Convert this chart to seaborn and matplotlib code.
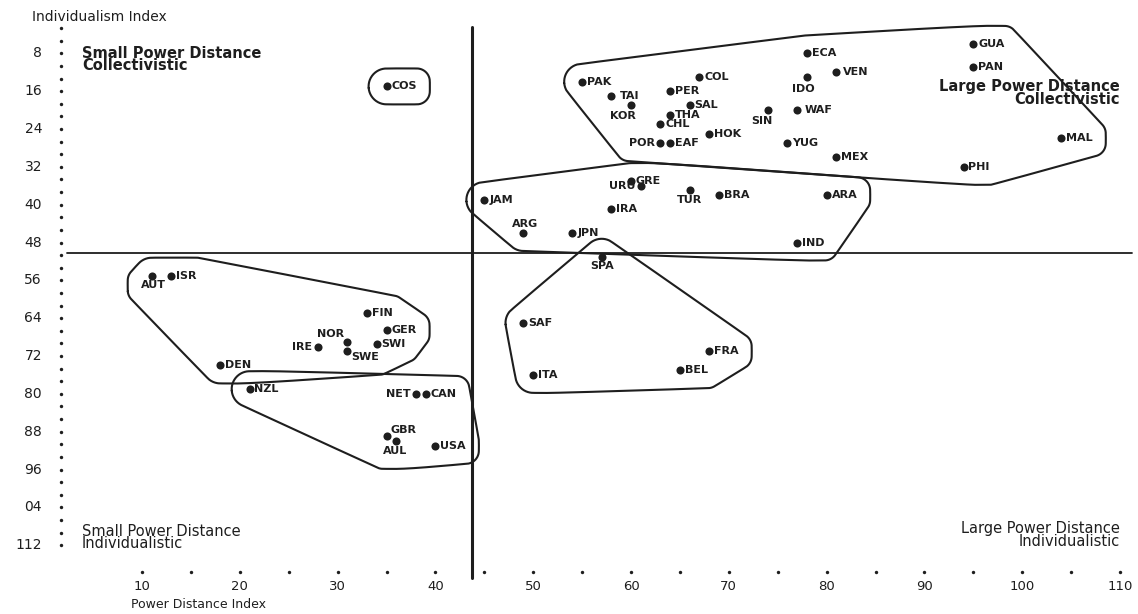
import numpy as np
import pandas as pd
import matplotlib
matplotlib.use("Agg")
import matplotlib.pyplot as plt
import seaborn as sns

# Hofstede-style map: power distance (x) vs individualism (y, drawn downwards)
countries = ["GUA", "PAN", "ECA", "VEN", "COL", "IDO", "PAK", "PER", "TAI", "KOR",
             "SAL", "THA", "CHL", "SIN", "WAF", "HOK", "POR", "EAF", "YUG", "MEX",
             "PHI", "MAL",
             "GRE", "URU", "TUR", "BRA", "ARA", "JAM", "IRA", "ARG", "JPN", "IND",
             "SPA", "SAF", "FRA", "BEL", "ITA",
             "COS",
             "AUT", "ISR", "FIN", "GER", "SWI", "NOR", "IRE", "SWE", "DEN",
             "NZL", "NET", "CAN", "GBR", "AUL", "USA"]
power_distance = [95, 95, 78, 81, 67, 78, 55, 64, 58, 60,
                  66, 64, 63, 74, 77, 68, 63, 64, 76, 81,
                  94, 104,
                  60, 61, 66, 69, 80, 45, 58, 49, 54, 77,
                  57, 49, 68, 65, 50,
                  35,
                  11, 13, 33, 35, 34, 31, 28, 31, 18,
                  21, 38, 39, 35, 36, 40]
individualism = [6, 11, 8, 12, 13, 13, 14, 16, 17, 19,
                 19, 21, 23, 20, 20, 25, 27, 27, 27, 30,
                 32, 26,
                 35, 36, 37, 38, 38, 39, 41, 46, 46, 48,
                 51, 65, 71, 75, 76,
                 15,
                 55, 55, 63, 66.5, 69.5, 69, 70, 71, 74,
                 79, 80, 80, 89, 90, 91]
cluster = ["A", "A", "A", "A", "A", "A", "A", "A", "A", "A",
           "A", "A", "A", "A", "A", "A", "A", "A", "A", "A",
           "A", "A",
           "B", "B", "B", "B", "B", "B", "B", "B", "B", "B",
           "C", "C", "C", "C", "C",
           "D",
           "E", "E", "E", "E", "E", "E", "E", "E", "E",
           "F", "F", "F", "F", "F", "F"]

y_tick_values = [8, 16, 24, 32, 40, 48, 56, 64, 72, 80, 88, 96, 104, 112]
y_tick_labels = ["8", "16", "24", "32", "40", "48", "56", "64", "72", "80",
                 "88", "96", "04", "112"]
x_tick_values = [10, 20, 30, 40, 50, 60, 70, 80, 90, 100, 110]

PDI_SPLIT = 43.7
IDV_SPLIT = 50.2

df = pd.DataFrame({"code": countries, "pdi": power_distance,
                   "idv": individualism, "cluster": cluster})

# label offsets (points) for codes not written to the right of their dot
label_pos = {
    "IDO": (-3, -9, "center"),
    "KOR": (-6, -8, "center"),
    "SIN": (-4, -8, "center"),
    "POR": (-4, 0, "right"),
    "URU": (-4, 0, "right"),
    "TUR": (0, -6.5, "center"),
    "ARG": (1, 6.5, "center"),
    "SPA": (0, -7, "center"),
    "AUT": (1, -7, "center"),
    "NOR": (-12, 6, "center"),
    "IRE": (-4, 0, "right"),
    "SWE": (3, -4, "left"),
    "NET": (-4, 0, "right"),
    "GBR": (3, 4.5, "left"),
    "AUL": (-1, -7, "center"),
    "TAI": (6, 0, "left"),
    "VEN": (5, 0, "left"),
    "WAF": (5, 0, "left"),
}

ink = "#1e1e1e"

sns.set_style("white")
plt.rcParams["font.family"] = ["DejaVu Sans"]

W, H = 1138, 614
fig = plt.figure(figsize=(W / 100, H / 100), dpi=100)
ax = fig.add_axes([0, 0, 1, 1])

sns.scatterplot(data=df, x="pdi", y="idv", color=ink, s=34, linewidth=0,
                legend=False, ax=ax, zorder=3)

ax.set_xlim(-4.52, 111.84)
ax.set_ylim(126.54, -3.27)
ax.axis("off")

# country codes
labels = {}
for i, row in df.iterrows():
    dx, dy, ha = label_pos.get(row["code"], (3.5, 0, "left"))
    labels[i] = ax.annotate(row["code"], (row["pdi"], row["idv"]),
                            xytext=(dx, dy), textcoords="offset points",
                            ha=ha, va="center", fontsize=8,
                            fontweight="bold", color=ink)

# quadrant dividers
ax.plot([PDI_SPLIT, PDI_SPLIT], [2.4, 118.9], color=ink, lw=2.2)
ax.plot([2.3, 111.2], [IDV_SPLIT, IDV_SPLIT], color=ink, lw=1.3)

# dotted axes
yax = ax.get_yaxis_transform()
xax = ax.get_xaxis_transform()
y_dots = np.arange(8 / 3, 112.01, 8 / 3)
ax.scatter(np.full(len(y_dots), 61 / W), y_dots, transform=yax, s=6,
           color=ink, linewidth=0, clip_on=False)
for v, t in zip(y_tick_values, y_tick_labels):
    ax.text(42 / W, v, t, transform=yax, ha="right", va="center",
            fontsize=10, color=ink)
x_dots = np.arange(10, 110.01, 5)
ax.scatter(x_dots, np.full(len(x_dots), 1 - 572 / H), transform=xax, s=6,
           color=ink, linewidth=0, clip_on=False)
for v in x_tick_values:
    ax.text(v, 1 - 587 / H, str(v), transform=xax, ha="center", va="center",
            fontsize=9.5, color=ink)

fig.text(32 / W, 1 - 17 / H, "Individualism Index", ha="left", va="center",
         fontsize=10, color=ink)
fig.text(131 / W, 1 - 604 / H, "Power Distance Index", ha="left",
         va="center", fontsize=9, color=ink)

# quadrant names
fig.text(82 / W, 1 - 53 / H, "Small Power Distance", ha="left", va="center",
         fontsize=10.5, fontweight="bold", color=ink)
fig.text(82 / W, 1 - 66 / H, "Collectivistic", ha="left", va="center",
         fontsize=10.5, fontweight="bold", color=ink)
fig.text(1120 / W, 1 - 87 / H, "Large Power Distance", ha="right",
         va="center", fontsize=10.5, fontweight="bold", color=ink)
fig.text(1120 / W, 1 - 100 / H, "Collectivistic", ha="right", va="center",
         fontsize=10.5, fontweight="bold", color=ink)
fig.text(82 / W, 1 - 531 / H, "Small Power Distance", ha="left",
         va="center", fontsize=10.5, color=ink)
fig.text(82 / W, 1 - 544 / H, "Individualistic", ha="left", va="center",
         fontsize=10.5, color=ink)
fig.text(1120 / W, 1 - 528 / H, "Large Power Distance", ha="right",
         va="center", fontsize=10.5, color=ink)
fig.text(1120 / W, 1 - 541 / H, "Individualistic", ha="right", va="center",
         fontsize=10.5, color=ink)


# cluster outlines: rounded hull around each group's dots and labels
def convex_hull(points):
    pts = sorted(map(tuple, points))

    def cross(o, a, b):
        return (a[0] - o[0]) * (b[1] - o[1]) - (a[1] - o[1]) * (b[0] - o[0])

    lower, upper = [], []
    for p in pts:
        while len(lower) >= 2 and cross(lower[-2], lower[-1], p) <= 0:
            lower.pop()
        lower.append(p)
    for p in reversed(pts):
        while len(upper) >= 2 and cross(upper[-2], upper[-1], p) <= 0:
            upper.pop()
        upper.append(p)
    return np.array(lower[:-1] + upper[:-1])


def chaikin(p, n=3):
    for _ in range(n):
        q = np.roll(p, -1, axis=0)
        out = np.empty((2 * len(p), 2))
        out[0::2] = 0.75 * p + 0.25 * q
        out[1::2] = 0.25 * p + 0.75 * q
        p = out
    return p


fig.canvas.draw()
renderer = fig.canvas.get_renderer()
theta = np.linspace(0, 2 * np.pi, 32, endpoint=False)
ring = np.c_[np.cos(theta), np.sin(theta)]
pad = 18

for cid, grp in df.groupby("cluster"):
    pts = []
    for i, row in grp.iterrows():
        dot = ax.transData.transform((row["pdi"], row["idv"]))
        pts.append(dot + ring * pad)
        bb = labels[i].get_window_extent(renderer)
        for c in [(bb.x0, bb.y0), (bb.x1, bb.y0), (bb.x1, bb.y1), (bb.x0, bb.y1)]:
            pts.append(np.array(c) + ring * (pad - 5))
    hull = chaikin(convex_hull(np.vstack(pts)))
    hull = np.vstack([hull, hull[:1]])
    outline = ax.transData.inverted().transform(hull)
    ax.plot(outline[:, 0], outline[:, 1], color=ink, lw=1.5)

fig.savefig("out.png", dpi=100, facecolor="white")
